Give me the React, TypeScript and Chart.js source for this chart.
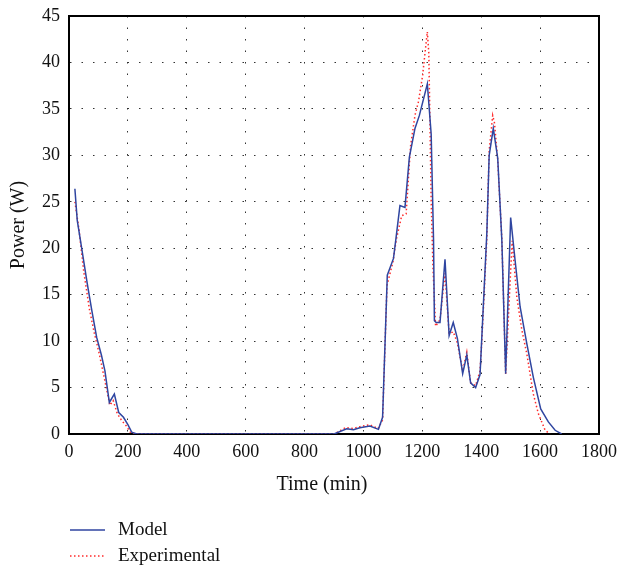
import React, { useEffect, useRef } from "react";
import { Chart, registerables } from "chart.js";

Chart.register(...registerables);

const modelTime = [20, 28, 43, 62, 78, 94, 110, 122, 137, 154, 169, 185, 200, 213, 230,
  900, 943, 966, 988, 1022, 1051, 1065, 1081, 1102, 1111, 1124, 1141, 1156, 1175, 1190, 1217, 1230, 1238,
  1241, 1247, 1260, 1277, 1291, 1305, 1319, 1337, 1351, 1364, 1381, 1396, 1402, 1419, 1427, 1441, 1456,
  1470, 1483, 1500, 1515, 1532, 1555, 1577, 1602, 1628, 1651, 1673];
const modelPower = [26.4, 23, 20, 16.2, 13.2, 10.4, 8.5, 6.8, 3.4, 4.3, 2.3, 1.8, 1.0, 0.2, 0,
  0, 0.56, 0.45, 0.67, 0.85, 0.5, 1.8, 17.1, 18.9, 21.2, 24.6, 24.4, 29.8, 32.9, 34.3, 37.7, 32.3, 21,
  12.2, 12, 12, 18.8, 10.6, 12, 10.3, 6.5, 8.5, 5.5, 5.0, 6.4, 10.4, 21.6, 30, 32.9, 29.7,
  20.9, 6.5, 23.3, 18.7, 13.7, 9.7, 6.1, 2.7, 1.3, 0.4, 0];

const expTime = [20, 34, 50, 69, 85, 103, 120, 139, 150, 164, 180, 194, 210, 225,
  900, 940, 965, 990, 1020, 1050, 1065, 1080, 1100, 1112, 1130, 1145, 1160, 1175, 1187, 1201, 1209, 1217,
  1222, 1226, 1230, 1236, 1245, 1260, 1277, 1291, 1305, 1319, 1337, 1351, 1364, 1381, 1396, 1402, 1419,
  1427, 1439, 1445, 1456, 1470, 1483, 1505, 1521, 1538, 1555, 1577, 1594, 1617, 1633];
const expPower = [25, 22, 17.5, 13.5, 11, 8.6, 6, 3.1, 3.6, 2.2, 1.4, 0.9, 0.1, 0,
  0, 0.7, 0.6, 0.8, 1.0, 0.6, 1.5, 16, 18.5, 21, 23.5, 23.7, 31, 34.3, 35.8, 38.6, 41, 43.3,
  41, 33.4, 25.2, 18, 11.6, 12.3, 17.3, 10.8, 11, 9.8, 6.8, 8.8, 5.5, 5.2, 6.8, 10, 21,
  30.5, 34.3, 33.5, 29.5, 21, 6.5, 20.8, 14.7, 11.2, 8.6, 4.3, 2.2, 0.4, 0];

const seriesNames = ["Model", "Experimental"];
const xTitle = "Time (min)";
const yTitle = "Power (W)";

const FONT = '"Liberation Serif", "DejaVu Serif", serif';
const BLUE = "#2f45a0";
const RED = "#ff2a2a";

const framePlugin = {
  id: "frame",
  afterDatasetsDraw(chart: any) {
    const { ctx, chartArea } = chart;
    ctx.save();
    ctx.strokeStyle = "#000";
    ctx.lineWidth = 2;
    ctx.beginPath();
    ctx.moveTo(chartArea.left, chartArea.top);
    ctx.lineTo(chartArea.right, chartArea.top);
    ctx.lineTo(chartArea.right, chartArea.bottom);
    ctx.stroke();
    ctx.restore();
  },
  afterDraw(chart: any) {
    const { ctx } = chart;
    ctx.save();
    ctx.fillStyle = "#111";
    ctx.font = `20px ${FONT}`;
    ctx.textBaseline = "middle";
    ctx.textAlign = "center";
    ctx.fillText(xTitle, 322, 485);
    const items = [
      { label: seriesNames[0], color: BLUE, dash: [], y: 530 },
      { label: seriesNames[1], color: RED, dash: [1.5, 2.5], y: 556 },
    ];
    items.forEach((it) => {
      ctx.strokeStyle = it.color;
      ctx.lineWidth = 1.5;
      ctx.setLineDash(it.dash);
      ctx.beginPath();
      ctx.moveTo(70, it.y);
      ctx.lineTo(105, it.y);
      ctx.stroke();
      ctx.setLineDash([]);
      ctx.fillStyle = "#111";
      ctx.font = `19px ${FONT}`;
      ctx.textBaseline = "middle";
      ctx.textAlign = "left";
      ctx.fillText(it.label, 118, it.y);
    });
    ctx.restore();
  },
};

export default function App() {
  const ref = useRef<HTMLCanvasElement>(null);
  useEffect(() => {
    if (!ref.current) return;
    const chart = new Chart(ref.current, {
      type: "line",
      data: {
        datasets: [
          {
            label: seriesNames[0],
            data: modelTime.map((t, i) => ({ x: t, y: modelPower[i] })),
            borderColor: BLUE,
            borderWidth: 1.5,
            pointRadius: 0,
            tension: 0,
            fill: false,
          },
          {
            label: seriesNames[1],
            data: expTime.map((t, i) => ({ x: t, y: expPower[i] })),
            borderColor: RED,
            borderWidth: 1.5,
            borderDash: [1.5, 2.5],
            pointRadius: 0,
            tension: 0,
            fill: false,
          },
        ],
      },
      options: {
        animation: false,
        responsive: false,
        layout: { padding: { left: 0, top: 16, right: 19, bottom: 67 } },
        plugins: { legend: { display: false }, tooltip: { enabled: false } },
        scales: {
          x: {
            type: "linear",
            min: 0,
            max: 1800,
            ticks: { stepSize: 200, color: "#111", font: { family: FONT, size: 18 }, padding: 7, maxRotation: 0, callback: (v: any) => String(v) },
            grid: { color: "#333", lineWidth: 1, drawTicks: false },
            border: { display: true, color: "#000", width: 2, dash: [1.5, 10] },
            title: { display: false },
            afterFit: (s: any) => { s.height = 67; s.paddingLeft = 0; s.paddingRight = 0; },
          },
          y: {
            min: 0,
            max: 45,
            ticks: { stepSize: 5, color: "#111", font: { family: FONT, size: 18 }, padding: 9, callback: (v: any) => String(v) },
            grid: { color: "#333", lineWidth: 1, drawTicks: false },
            border: { display: true, color: "#000", width: 2, dash: [1.5, 10] },
            title: { display: true, text: yTitle, color: "#111", font: { family: FONT, size: 20 }, padding: { top: 7, bottom: 4 } },
            afterFit: (s: any) => { s.width = 69; s.paddingTop = 0; s.paddingBottom = 0; },
          },
        },
      },
      plugins: [framePlugin],
    });
    return () => chart.destroy();
  }, []);
  return (
    <div style={{ position: "absolute", left: 0, top: 0, width: 618, height: 568, background: "#fff" }}>
      <canvas ref={ref} width={618} height={568} />
    </div>
  );
}
